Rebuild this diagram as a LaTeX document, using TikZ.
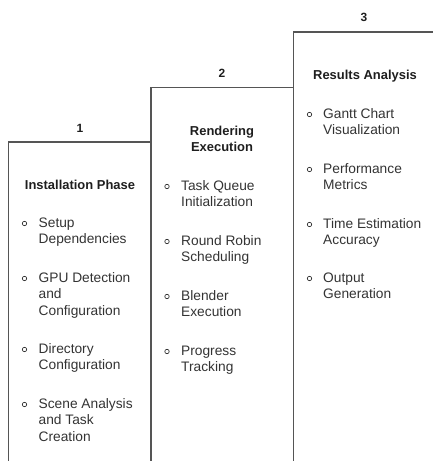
\documentclass[tikz,border=0pt]{standalone}
\usepackage{fontspec}
\setmainfont{Liberation Sans}
\definecolor{linegray}{HTML}{555555}
\definecolor{titlecol}{HTML}{1E1E1E}
\definecolor{itemcol}{HTML}{333333}
\tikzset{
  colline/.style={draw=linegray, line width=1.3bp},
  num/.style={font=\bfseries\fontsize{12}{14}\selectfont, text=titlecol, anchor=base, inner sep=0},
  ttl/.style={font=\bfseries\fontsize{13}{17}\selectfont, text=titlecol, anchor=base, align=center, inner sep=0},
  item/.style={font=\fontsize{13.8}{16.5}\selectfont, text=itemcol, anchor=base west, align=left, inner sep=0},
  bul/.style={circle, draw=itemcol, line width=0.7bp, minimum size=4.4bp, inner sep=0},
}
\begin{document}
\begin{tikzpicture}[x=1bp,y=-1bp]
\useasboundingbox (0,0) rectangle (432,461);
% column outlines
\coordinate (c1b) at (8.5,463);
\coordinate (c1t) at (8.5,142);
\coordinate (c2b) at (151,463);
\coordinate (c2t) at (151,87.5);
\coordinate (c3b) at (293.5,463);
\coordinate (c3t) at (293.5,32);
\coordinate (c4t) at (434,32);
\draw[colline] (c1b) -- (c1t) -- (c2t |- c1t);
\draw[colline] (c2b) -- (c2t) -- (c3t |- c2t);
\draw[colline] (c3b) -- (c3t) -- (c4t);
% numbers
\node[num] (n1) at (80,133) {1};
\node[num] (n2) at (222,77.5) {2};
\node[num] (n3) at (364,22) {3};
% titles (base anchor = baseline of last line)
\node[ttl] (t1) at (80,190) {Installation Phase};
\node[ttl] (t2) at (222,152) {Rendering\\Execution};
\node[ttl] (t3) at (365,80) {Results Analysis};
% column 1 items
\node[bul] (b11) at (24.5,223.5) {};
\node[item] (i11) at (38.5,243.5) {Setup\\Dependencies};
\node[bul] (b12) at (24.5,278.5) {};
\node[item] (i12) at (38.5,315) {GPU Detection\\and\\Configuration};
\node[bul] (b13) at (24.5,349.5) {};
\node[item] (i13) at (38.5,369.5) {Directory\\Configuration};
\node[bul] (b14) at (24.5,404.5) {};
\node[item] (i14) at (38.5,441) {Scene Analysis\\and Task\\Creation};
% column 2 items
\node[bul] (b21) at (167,186.5) {};
\node[item] (i21) at (181,206.5) {Task Queue\\Initialization};
\node[bul] (b22) at (167,241.5) {};
\node[item] (i22) at (181,261.5) {Round Robin\\Scheduling};
\node[bul] (b23) at (167,296.5) {};
\node[item] (i23) at (181,316.5) {Blender\\Execution};
\node[bul] (b24) at (167,351.5) {};
\node[item] (i24) at (181,371.5) {Progress\\Tracking};
% column 3 items
\node[bul] (b31) at (309.5,114.5) {};
\node[item] (i31) at (323,134.5) {Gantt Chart\\Visualization};
\node[bul] (b32) at (309.5,169.5) {};
\node[item] (i32) at (323,189.5) {Performance\\Metrics};
\node[bul] (b33) at (309.5,224.5) {};
\node[item] (i33) at (323,244.5) {Time Estimation\\Accuracy};
\node[bul] (b34) at (309.5,278.5) {};
\node[item] (i34) at (323,298.5) {Output\\Generation};
\end{tikzpicture}
\end{document}
